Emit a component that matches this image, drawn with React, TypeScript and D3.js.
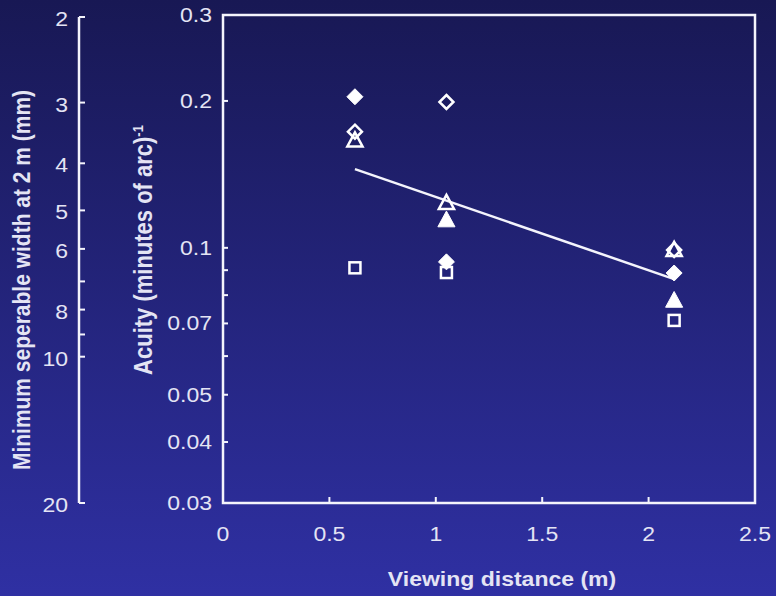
import React from "react";
import * as d3 from "d3";

const W = 776;
const H = 596;

// x positions (viewing distance, m)
const distances = [0.62, 1.05, 2.12];

// series values (acuity, minutes of arc ^-1); null = not shown
const filledDiamond = [0.204, 0.0936, 0.0888];
const openDiamond = [0.173, 0.199, 0.099];
const filledTriangle = [null, 0.114, 0.078];
const openTriangle = [0.166, 0.1236, 0.099];
const openSquare = [0.091, 0.089, 0.071];

// regression line endpoints
const fitX = [0.62, 2.12];
const fitY = [0.145, 0.0863];

const xTicks = [0, 0.5, 1, 1.5, 2, 2.5];
const yTicks = [0.03, 0.04, 0.05, 0.06, 0.07, 0.08, 0.09, 0.1, 0.2, 0.3];
const yLabels = ["0.03", "0.04", "0.05", "", "0.07", "", "", "0.1", "0.2", "0.3"];
const wTicks = [2, 3, 4, 5, 6, 7, 8, 9, 10, 20];
const wLabels = ["2", "3", "4", "5", "6", "", "8", "", "10", "20"];

const TXT = "#e4e4f4";
const FONT = "'Liberation Sans', Arial, sans-serif";
const SX = 1.18; // horizontal stretch of the text in the reference

export default function App() {
  const x = d3.scaleLinear().domain([0, 2.5]).range([223, 755]);
  const y = d3.scaleLog().domain([0.03, 0.3]).range([503, 15]);
  const w = d3.scaleLog().domain([2, 20]).range([17, 503]);

  const line = d3
    .line<number>()
    .x((_, i) => x(fitX[i]))
    .y((d) => y(d));

  const diamondPath = (cx: number, cy: number, r: number) =>
    `M${cx},${cy - r}L${cx + r},${cy}L${cx},${cy + r}L${cx - r},${cy}Z`;
  const triPath = (cx: number, cy: number, r: number) =>
    `M${cx},${cy - r}L${cx + r * 0.95},${cy + r * 0.75}L${cx - r * 0.95},${cy + r * 0.75}Z`;

  const marks: React.ReactNode[] = [];
  const add = (
    vals: (number | null)[],
    kind: string,
    filled: boolean,
    key: string
  ) => {
    vals.forEach((v, i) => {
      if (v == null) return;
      const cx = x(distances[i]);
      const cy = y(v);
      const common = {
        key: key + i,
        fill: filled ? "#ffffff" : "none",
        stroke: "#ffffff",
        strokeWidth: filled ? 1 : 2.5,
        strokeLinejoin: "miter" as const,
      };
      if (kind === "diamond") marks.push(<path {...common} d={diamondPath(cx, cy, filled ? 8 : 7)} />);
      else if (kind === "tri") marks.push(<path {...common} d={triPath(cx, cy, filled ? 9 : 8)} />);
      else marks.push(<rect {...common} x={cx - 5.5} y={cy - 5.5} width={11} height={11} />);
    });
  };
  add(openSquare, "square", false, "sq");
  add(filledTriangle, "tri", true, "ft");
  add(openTriangle, "tri", false, "ot");
  add(filledDiamond, "diamond", true, "fd");
  add(openDiamond, "diamond", false, "od");

  const hText = (
    key: string,
    tx: number,
    ty: number,
    s: string,
    anchor: string,
    size = 19.5,
    bold = false
  ) => (
    <text
      key={key}
      transform={`translate(${tx},${ty}) scale(${SX},1)`}
      fill={TXT}
      fontSize={size}
      fontWeight={bold ? "bold" : "normal"}
      textAnchor={anchor}
      dy="0.36em"
    >
      {s}
    </text>
  );

  return (
    <svg
      width={W}
      height={H}
      style={{ position: "absolute", left: 0, top: 0, display: "block" }}
      fontFamily={FONT}
    >
      <defs>
        <linearGradient id="bg" x1="0" y1="0" x2="0" y2="1">
          <stop offset="0" stopColor="#181854" />
          <stop offset="1" stopColor="#2f30a3" />
        </linearGradient>
      </defs>
      <rect x={0} y={0} width={W} height={H} fill="url(#bg)" />

      {/* plot frame */}
      <rect
        x={x(0)}
        y={y(0.3)}
        width={x(2.5) - x(0)}
        height={y(0.03) - y(0.3)}
        fill="none"
        stroke="#f4f4fc"
        strokeWidth={2.5}
      />

      {/* x ticks */}
      {xTicks.map((t) => (
        <g key={"xt" + t}>
          {t > 0 && t < 2.5 && (
            <line x1={x(t)} x2={x(t)} y1={y(0.03)} y2={y(0.03) - 6} stroke="#f4f4fc" strokeWidth={2} />
          )}
          {hText("xl" + t, x(t), 534, String(t), "middle")}
        </g>
      ))}

      {/* y ticks */}
      {yTicks.map((t, i) => (
        <g key={"yt" + t}>
          {t > 0.03 && t < 0.3 && (
            <line x1={x(0)} x2={x(0) + 5} y1={y(t)} y2={y(t)} stroke="#f4f4fc" strokeWidth={2} />
          )}
          {yLabels[i] && hText("yl" + t, 212, y(t), yLabels[i], "end")}
        </g>
      ))}

      {/* left width axis */}
      <line x1={79} x2={79} y1={w(2)} y2={w(20)} stroke="#f4f4fc" strokeWidth={2.5} />
      {wTicks.map((t, i) => (
        <g key={"wt" + t}>
          <line x1={79} x2={85} y1={w(t)} y2={w(t)} stroke="#f4f4fc" strokeWidth={2} />
          {wLabels[i] && hText("wl" + t, 68, w(t) + 2, wLabels[i], "end")}
        </g>
      ))}

      {/* fit line */}
      <path d={line(fitY) || ""} fill="none" stroke="#f4f4fc" strokeWidth={2.5} />

      {marks}

      {/* axis titles */}
      {hText("xtitle", 502, 579, "Viewing distance (m)", "middle", 19.5, true)}
      <text
        transform={`translate(152,250) scale(${SX},1) rotate(-90)`}
        fill={TXT}
        fontSize={22}
        fontWeight="bold"
        textAnchor="middle"
      >
        Acuity (minutes of arc)
        <tspan dy={-8} fontSize={13}>-1</tspan>
      </text>
      <text
        transform={`translate(30,280) scale(${SX},1) rotate(-90)`}
        fill={TXT}
        fontSize={21}
        fontWeight="bold"
        textAnchor="middle"
      >
        Minimum seperable width at 2 m (mm)
      </text>
    </svg>
  );
}
